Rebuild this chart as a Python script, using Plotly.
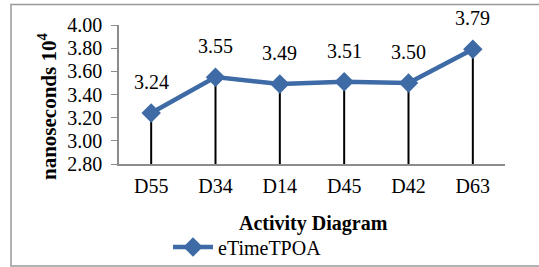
import plotly.graph_objects as go

categories = ["D55", "D34", "D14", "D45", "D42", "D63"]
values = [3.24, 3.55, 3.49, 3.51, 3.50, 3.79]
y_ticks = [2.80, 3.00, 3.20, 3.40, 3.60, 3.80, 4.00]
y_min, y_max = 2.80, 4.00
series_name = "eTimeTPOA"

W, H = 539, 267
L, R, T, B = 119, 34, 25, 103
pw, ph = W - L - R, H - T - B

FONT = "Liberation Serif, Times New Roman, serif"
BLUE = "#3E6AA6"
GRAY = "#8C8C8C"

# drop lines from each point to baseline
dx, dy = [], []
for c, v in zip(categories, values):
    dx += [c, c, None]
    dy += [y_min, v, None]

fig = go.Figure()
fig.add_trace(go.Scatter(x=dx, y=dy, mode="lines",
                         line=dict(color="black", width=2),
                         showlegend=False, hoverinfo="skip", cliponaxis=False))
fig.add_trace(go.Scatter(x=categories, y=values, mode="lines+markers",
                         name=series_name,
                         line=dict(color=BLUE, width=4.5),
                         marker=dict(symbol="diamond", size=15, color=BLUE),
                         cliponaxis=False))

for c, v in zip(categories, values):
    fig.add_annotation(x=c, y=v, text=f"{v:.2f}", showarrow=False,
                       yshift=31, font=dict(family=FONT, size=20, color="black"))

def px(x):
    return (x - L) / pw

def py(y):
    return (H - B - y) / ph

fig.add_annotation(xref="paper", yref="paper", x=px(47), y=py(107),
                   xanchor="center", yanchor="middle",
                   text="<b>nanoseconds 10<sup>4</sup></b>", textangle=-90,
                   showarrow=False, font=dict(family=FONT, size=21, color="black"))
fig.add_annotation(xref="paper", yref="paper", x=px(313), y=py(223),
                   xanchor="center", yanchor="middle",
                   text="<b>Activity Diagram</b>",
                   showarrow=False, font=dict(family=FONT, size=20, color="black"))

fig.add_shape(type="rect", xref="paper", yref="paper",
              x0=px(11), x1=px(545), y0=py(266), y1=py(4.5),
              line=dict(color="#999999", width=1.5), layer="below")

fig.update_layout(
    width=W, height=H,
    margin=dict(l=L, r=R, t=T, b=B, autoexpand=False),
    paper_bgcolor="white", plot_bgcolor="white",
    font=dict(family=FONT, size=20, color="black"),
    showlegend=True,
    legend=dict(orientation="h", xref="container", yref="container",
                x=168 / W, y=1 - 247 / H, xanchor="left", yanchor="middle",
                font=dict(family=FONT, size=20), bgcolor="rgba(0,0,0,0)",
                itemwidth=40),
    xaxis=dict(type="category", showgrid=False, showline=True, linecolor=GRAY,
               linewidth=1.5, ticks="", tickfont=dict(size=20), range=[-0.5, 5.5],
               automargin=False, ticklabelstandoff=3),
    yaxis=dict(range=[y_min, y_max], tickvals=y_ticks,
               ticktext=[f"{t:.2f}" for t in y_ticks], showgrid=False,
               showline=True, linecolor=GRAY, linewidth=1.5, ticks="outside",
               ticklen=6, tickcolor=GRAY, tickfont=dict(size=20), zeroline=False,
               automargin=False, ticklabelstandoff=5),
)

fig.write_html("out.html", config={"displayModeBar": False},
               post_script="document.body.style.margin='0';document.body.style.overflow='hidden';")
